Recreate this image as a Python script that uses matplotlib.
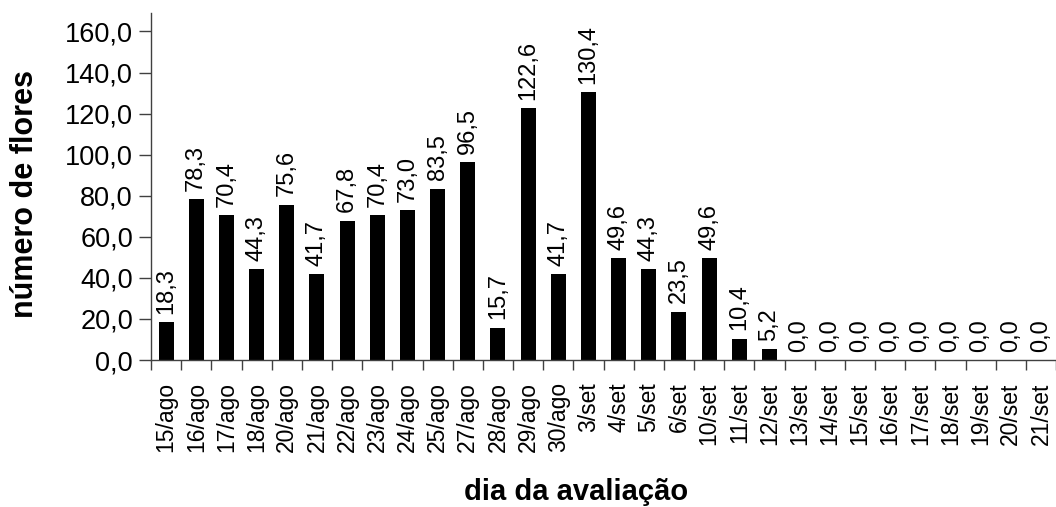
import matplotlib.pyplot as plt
import numpy as np

plt.rcParams['font.family'] = ['Liberation Sans', 'DejaVu Sans']

dias = ['15/ago', '16/ago', '17/ago', '18/ago', '20/ago', '21/ago', '22/ago',
        '23/ago', '24/ago', '25/ago', '27/ago', '28/ago', '29/ago', '30/ago',
        '3/set', '4/set', '5/set', '6/set', '10/set', '11/set', '12/set',
        '13/set', '14/set', '15/set', '16/set', '17/set', '18/set', '19/set',
        '20/set', '21/set']
flores = [18.3, 78.3, 70.4, 44.3, 75.6, 41.7, 67.8, 70.4, 73.0, 83.5, 96.5,
          15.7, 122.6, 41.7, 130.4, 49.6, 44.3, 23.5, 49.6, 10.4, 5.2,
          0.0, 0.0, 0.0, 0.0, 0.0, 0.0, 0.0, 0.0, 0.0]
yticks = np.arange(0, 161, 20)

def virgula(v):
    return f'{v:.1f}'.replace('.', ',')

fig = plt.figure(figsize=(10.56, 5.07), dpi=100)
ax = fig.add_axes([151/1056, 1 - 360/507, 1 - 151/1056, (360 - 13)/507])

x = np.arange(len(dias))
ax.bar(x, flores, width=0.5, color='black')
for xi, v in zip(x, flores):
    ax.annotate(virgula(v), (xi, v), xytext=(0, 6), textcoords='offset points',
                rotation=90, ha='center', va='bottom', fontsize=17)

ax.set_xlim(-0.5, len(dias) - 0.5)
ax.set_ylim(0, 169)
ax.set_yticks(yticks)
ax.set_yticklabels([virgula(v) for v in yticks], fontsize=19.5)
ax.set_xticks(x)
ax.set_xticklabels(dias, rotation=90, fontsize=16.5)
ax.tick_params(axis='x', length=0, pad=16)
ax.set_xticks(np.arange(-0.5, len(dias)), minor=True)
ax.tick_params(axis='x', which='minor', length=7, width=1, color='#404040')
ax.tick_params(axis='y', length=9, width=1, color='#404040', pad=4)

for s in ['top', 'right']:
    ax.spines[s].set_visible(False)
for s in ['left', 'bottom']:
    ax.spines[s].set_color('#404040')
    ax.spines[s].set_linewidth(1)

fig.text(576/1056, 1 - 500/507, 'dia da avaliação', ha='center', va='baseline',
         fontsize=21, fontweight='bold')
fig.text(25/1056, 1 - 194/507, 'número de flores', ha='center', va='center',
         rotation=90, fontsize=22, fontweight='bold')

fig.savefig('out.png', dpi=100)
